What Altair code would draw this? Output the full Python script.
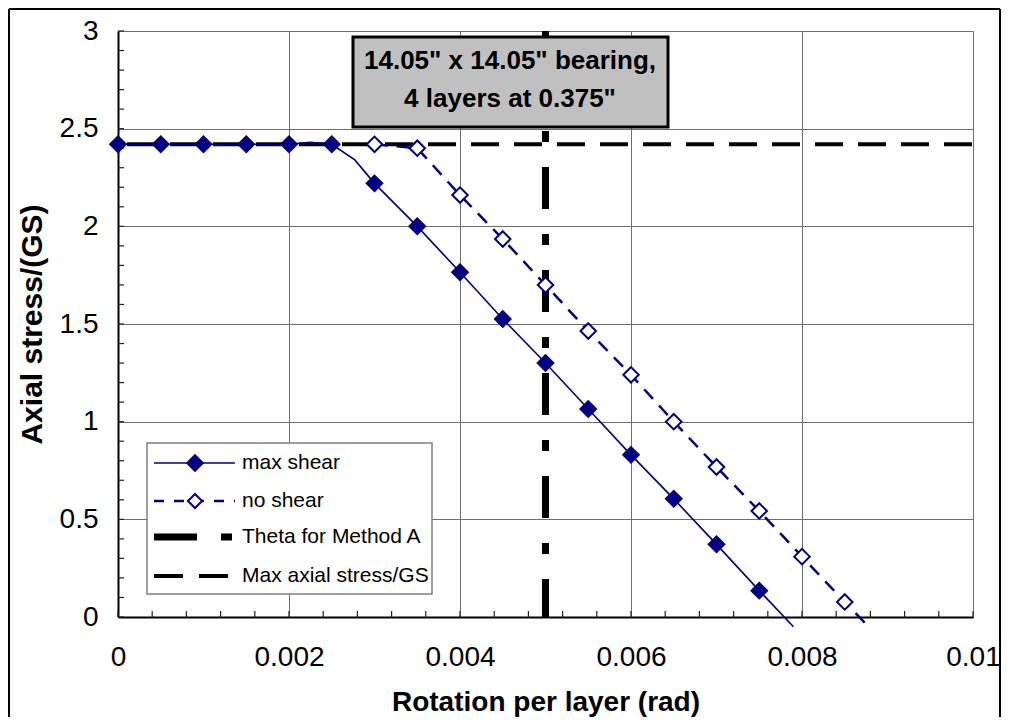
import altair as alt
import pandas as pd

# ---------------- data ----------------
series_names = ["max shear", "no shear", "Theta for Method A", "Max axial stress/GS"]
chart_title = ['14.05" x 14.05" bearing,', '4 layers at 0.375"']

# markers
max_shear_x = [0, 0.0005, 0.001, 0.0015, 0.002, 0.0025, 0.003, 0.0035, 0.004,
               0.0045, 0.005, 0.0055, 0.006, 0.0065, 0.007, 0.0075]
max_shear_y = [2.42, 2.42, 2.42, 2.42, 2.42, 2.42, 2.22, 2.00, 1.765,
               1.526, 1.30, 1.065, 0.83, 0.605, 0.372, 0.135]
# line path of "max shear" (with the bend points and the run-out below zero)
max_shear_line_x = [0, 0.0005, 0.001, 0.0015, 0.002, 0.00225, 0.0025, 0.00277, 0.003,
                    0.0035, 0.004, 0.0045, 0.005, 0.0055, 0.006, 0.0065, 0.007,
                    0.0075, 0.0079]
max_shear_line_y = [2.42, 2.42, 2.42, 2.42, 2.42, 2.43, 2.42, 2.34, 2.22,
                    2.00, 1.765, 1.526, 1.30, 1.065, 0.83, 0.605, 0.372,
                    0.135, -0.05]

no_shear_x = [0.003, 0.0035, 0.004, 0.0045, 0.005, 0.0055, 0.006, 0.0065,
              0.007, 0.0075, 0.008, 0.0085]
no_shear_y = [2.42, 2.40, 2.16, 1.935, 1.70, 1.464, 1.24, 1.00,
              0.768, 0.543, 0.309, 0.077]
no_shear_line_x = no_shear_x + [0.00878]
no_shear_line_y = no_shear_y + [-0.05]

theta_method_a = [0.005]
max_axial_stress = [2.42]

x_ticks = [0, 0.002, 0.004, 0.006, 0.008, 0.01]
y_ticks = [0, 0.5, 1, 1.5, 2, 2.5, 3]
x_minor = [round(i * 0.0004, 4) for i in range(26)]
y_minor = [round(i * 0.1, 1) for i in range(31)]

# ---------------- chart ----------------
NAVY = "#000080"
FONT = "Liberation Sans"
W, H = 855, 586

df_ms_line = pd.DataFrame({"x": max_shear_line_x, "y": max_shear_line_y})
df_ms = pd.DataFrame({"x": max_shear_x, "y": max_shear_y})
df_ns_line = pd.DataFrame({"x": no_shear_line_x, "y": no_shear_line_y})
df_ns = pd.DataFrame({"x": no_shear_x, "y": no_shear_y})
df_theta = pd.DataFrame({"x": theta_method_a})
df_axial = pd.DataFrame({"y": max_axial_stress})
df_xminor = pd.DataFrame({"x": x_minor})
df_yminor = pd.DataFrame({"y": y_minor})
one = pd.DataFrame({"a": [0]})

xscale = alt.Scale(domain=[0, 0.01], nice=False, zero=False)
yscale = alt.Scale(domain=[0, 3], nice=False, zero=False)

xaxis = alt.Axis(values=x_ticks, format="~g", title="Rotation per layer (rad)",
                 grid=True, gridColor="#6e6e6e", gridWidth=1,
                 ticks=False, domainColor="#000000", domainWidth=2,
                 labelFont=FONT, labelFontSize=28, labelColor="#000000",
                 labelPadding=26, labelFlush=False, labelOverlap=False,
                 titleFont=FONT, titleFontSize=28, titleFontWeight="bold",
                 titleColor="#000000", titlePadding=17)
yaxis = alt.Axis(values=y_ticks, format="~g", title="Axial stress/(GS)",
                 grid=True, gridColor="#6e6e6e", gridWidth=1,
                 ticks=False, domainColor="#000000", domainWidth=2,
                 labelFont=FONT, labelFontSize=28, labelColor="#000000",
                 labelPadding=20, labelFlush=False, labelOverlap=False,
                 titleFont=FONT, titleFontSize=30, titleFontWeight="bold",
                 titleColor="#000000", titlePadding=12)

X = alt.X("x:Q", scale=xscale, axis=xaxis)
Y = alt.Y("y:Q", scale=yscale, axis=yaxis)

axial_line = alt.Chart(df_axial).mark_rule(
    color="black", strokeWidth=4, strokeDash=[28, 15], strokeDashOffset=34
).encode(y=Y, x=alt.value(0), x2=alt.value(W))

theta_line = alt.Chart(df_theta).mark_rule(
    color="black", strokeWidth=7, strokeDash=[42, 25, 11, 25], strokeDashOffset=70
).encode(x=X, y=alt.value(0), y2=alt.value(H))

ms_line = alt.Chart(df_ms_line).mark_line(
    color=NAVY, strokeWidth=1.6, clip=False
).encode(x=X, y=Y, order="x:Q")

ns_line = alt.Chart(df_ns_line).mark_line(
    color=NAVY, strokeWidth=2.5, strokeDash=[13, 9], clip=False
).encode(x=X, y=Y, order="x:Q")

ms_pts = alt.Chart(df_ms).mark_point(
    shape="diamond", filled=True, color=NAVY, size=340, opacity=1
).encode(x=X, y=Y)

ns_pts = alt.Chart(df_ns).mark_point(
    shape="diamond", filled=False, fill="white", fillOpacity=1, stroke=NAVY,
    strokeWidth=2, size=240, opacity=1
).encode(x=X, y=Y)

xminor = alt.Chart(df_xminor).mark_rule(color="#222222", strokeWidth=1.2).encode(
    x=X, y=alt.value(H - 6), y2=alt.value(H))
yminor = alt.Chart(df_yminor).mark_rule(color="#222222", strokeWidth=1.2).encode(
    y=Y, x=alt.value(0), x2=alt.value(6))

# title box
title_box = alt.Chart(one).mark_rect(
    fill="#C0C0C0", stroke="black", strokeWidth=3
).encode(x=alt.value(235), x2=alt.value(550), y=alt.value(6), y2=alt.value(96))
title_l1 = alt.Chart(one).mark_text(
    font=FONT, fontSize=26, fontWeight="bold", color="black", align="center", baseline="middle"
).encode(x=alt.value(392), y=alt.value(30), text=alt.value(chart_title[0]))
title_l2 = alt.Chart(one).mark_text(
    font=FONT, fontSize=26, fontWeight="bold", color="black", align="center", baseline="middle"
).encode(x=alt.value(392), y=alt.value(68), text=alt.value(chart_title[1]))

# legend
LX0, LX1, LXM, LXT = 36, 117, 77, 124
LY = [432, 470, 506, 545]
legend_box = alt.Chart(one).mark_rect(
    fill="white", stroke="#808080", strokeWidth=1.5
).encode(x=alt.value(29), x2=alt.value(314), y=alt.value(412), y2=alt.value(563))

leg = [legend_box]
leg.append(alt.Chart(one).mark_rule(color=NAVY, strokeWidth=1.6).encode(
    x=alt.value(LX0), x2=alt.value(LX1), y=alt.value(LY[0])))
leg.append(alt.Chart(one).mark_point(shape="diamond", filled=True, color=NAVY, size=340, opacity=1).encode(
    x=alt.value(LXM), y=alt.value(LY[0])))
leg.append(alt.Chart(one).mark_rule(color=NAVY, strokeWidth=2.5, strokeDash=[10, 10]).encode(
    x=alt.value(LX0), x2=alt.value(LX1), y=alt.value(LY[1])))
leg.append(alt.Chart(one).mark_point(shape="diamond", filled=False, fill="white", fillOpacity=1,
                                     stroke=NAVY, strokeWidth=2, size=200, opacity=1).encode(
    x=alt.value(LXM), y=alt.value(LY[1])))
leg.append(alt.Chart(one).mark_rule(color="black", strokeWidth=7, strokeDash=[43, 24, 11, 25]).encode(
    x=alt.value(LX0), x2=alt.value(114), y=alt.value(LY[2])))
leg.append(alt.Chart(one).mark_rule(color="black", strokeWidth=4, strokeDash=[29, 16]).encode(
    x=alt.value(LX0), x2=alt.value(110), y=alt.value(LY[3])))
for i, name in enumerate(series_names):
    leg.append(alt.Chart(one).mark_text(
        font=FONT, fontSize=21, color="black", align="left", baseline="middle"
    ).encode(x=alt.value(LXT), y=alt.value(LY[i]), text=alt.value(name)))

# outer chart frame (left, top, right)
frame = [
    alt.Chart(one).mark_rule(color="black", strokeWidth=2).encode(
        x=alt.value(-109), y=alt.value(-22), y2=alt.value(690)),
    alt.Chart(one).mark_rule(color="black", strokeWidth=2).encode(
        x=alt.value(-109), x2=alt.value(882), y=alt.value(-22)),
    alt.Chart(one).mark_rule(color="black", strokeWidth=2).encode(
        x=alt.value(882), y=alt.value(-22), y2=alt.value(690)),
]

chart = alt.layer(
    axial_line, theta_line, xminor, yminor, ms_line, ns_line, ns_pts, ms_pts,
    title_box, title_l1, title_l2, *leg, *frame
).properties(
    width=W, height=H,
    autosize=alt.AutoSizeParams(type="none"),
    padding={"left": 110, "top": 23, "right": 28, "bottom": 100},
).configure_view(
    stroke="#808080", strokeWidth=2
).configure(background="white")

chart.save("out.html", embed_options={"renderer": "svg", "actions": False})
